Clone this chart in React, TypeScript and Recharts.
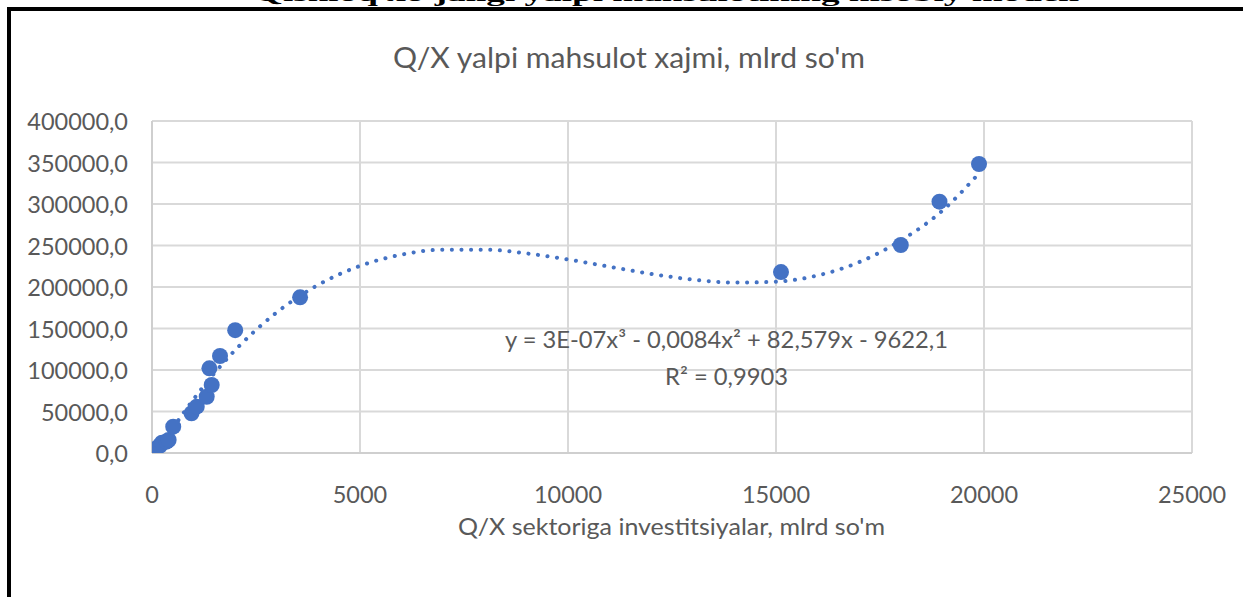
import React from 'react';
import { ComposedChart, Scatter, Line, XAxis, YAxis, CartesianGrid } from 'recharts';

// Observed points: investment in agriculture (x) vs gross output (y)
const investX = [60, 110, 190, 240, 350, 400, 510, 950, 1075, 1315, 1435, 1380, 1635, 2000, 3560, 15120, 18000, 18930, 19880];
const outputY = [2500, 5600, 9000, 12500, 13600, 15700, 31700, 47800, 55800, 67800, 81900, 102000, 116900, 148000, 187600, 218000, 250600, 302800, 348200];

// Polynomial trend line
const trendX = [250, 500, 1000, 1500, 2000, 2500, 3000, 3500, 4000, 5000, 6000, 7000, 8000, 9000, 10000, 11000, 12000, 13000, 14000, 15000, 16000, 17000, 18000, 19000, 19880];
const trendY = [10500, 29600, 64800, 96200, 124000, 148300, 169500, 187500, 202700, 225400, 239000, 245000, 245000, 240500, 233200, 224400, 215800, 208900, 205300, 206400, 213900, 230000, 256000, 292000, 337000];

const xTicks = [0, 5000, 10000, 15000, 20000, 25000];
const yTicks = [0, 50000, 100000, 150000, 200000, 250000, 300000, 350000, 400000];

const chartTitle = "Q/X yalpi mahsulot xajmi, mlrd so'm";
const xAxisTitle = "Q/X sektoriga investitsiyalar, mlrd so'm";
const equationText = 'y = 3E-07x³ - 0,0084x² + 82,579x - 9622,1';
const r2Text = 'R² = 0,9903';
const pageTitle = "Qishloq xo'jaligi yalpi mahsulotining hisobiy modeli";

const points = investX.map((x, i) => ({ x, y: outputY[i] }));
const trend = trendX.map((x, i) => ({ x, y: trendY[i] }));

const BLUE = '#4472C4';
const GREY_TEXT = '#595959';
const FONT = 'Lato, "Open Sans", sans-serif';

const XTick = (props: any) => {
  const { x, y, payload } = props;
  return (
    <text x={x} y={y + 50} textAnchor="middle" fontFamily={FONT} fontSize={23.5} fill={GREY_TEXT}>
      {payload.value}
    </text>
  );
};

const YTick = (props: any) => {
  const { x, y, payload } = props;
  return (
    <text x={x - 24} y={y + 9} textAnchor="end" fontFamily={FONT} fontSize={23.5} fill={GREY_TEXT}>
      {payload.value.toFixed(1).replace('.', ',')}
    </text>
  );
};

export default function App() {
  return (
    <div style={{ position: 'absolute', left: 0, top: 0, width: 1243, height: 597, overflow: 'hidden', background: '#fff' }}>
      <ComposedChart
        width={1243}
        height={597}
        margin={{ top: 121, right: 51, bottom: 84, left: 0 }}
      >
        <CartesianGrid stroke="#d9d9d9" strokeWidth={2} horizontalValues={yTicks} verticalValues={xTicks} />
        <XAxis
          type="number"
          dataKey="x"
          domain={[0, 25000]}
          ticks={xTicks}
          allowDataOverflow
          height={60}
          tickLine={false}
          tickSize={0}
          tickMargin={0}
          axisLine={{ stroke: '#cfcfcf', strokeWidth: 2 }}
          tick={<XTick />}
        />
        <YAxis
          type="number"
          dataKey="y"
          domain={[0, 400000]}
          ticks={yTicks}
          allowDataOverflow
          width={152}
          tickLine={false}
          tickSize={0}
          tickMargin={0}
          axisLine={{ stroke: '#cfcfcf', strokeWidth: 2 }}
          tick={<YTick />}
        />
        <Line
          data={trend}
          dataKey="y"
          type="monotone"
          stroke={BLUE}
          strokeWidth={4}
          strokeDasharray="0.1 9.5"
          strokeLinecap="round"
          dot={false}
          activeDot={false}
          isAnimationActive={false}
        />
        <Scatter
          data={points}
          dataKey="y"
          fill={BLUE}
          isAnimationActive={false}
          shape={(p: any) => <circle cx={p.cx} cy={p.cy} r={8} fill={BLUE} />}
        />
      </ComposedChart>
      <svg width={1243} height={597} style={{ position: 'absolute', left: 0, top: 0, pointerEvents: 'none' }}>
        <text x={254} y={1} fontFamily='"Liberation Serif", serif' fontWeight="bold" fontSize={22} fill="#000" textLength={825} lengthAdjust="spacingAndGlyphs">
          {pageTitle}
        </text>
        <line x1={7} y1={9} x2={1243} y2={9} stroke="#000" strokeWidth={4} />
        <line x1={9} y1={7} x2={9} y2={597} stroke="#000" strokeWidth={4} />
        <text x={393} y={68} fontFamily={FONT} fontSize={28} fill={GREY_TEXT} textLength={472} lengthAdjust="spacingAndGlyphs">
          {chartTitle}
        </text>
        <text x={458} y={535} fontFamily={FONT} fontSize={24} fill={GREY_TEXT} textLength={427} lengthAdjust="spacingAndGlyphs">
          {xAxisTitle}
        </text>
        <text x={505} y={348} fontFamily={FONT} fontSize={24} fill={GREY_TEXT} textLength={443} lengthAdjust="spacingAndGlyphs">
          {equationText}
        </text>
        <text x={665} y={385} fontFamily={FONT} fontSize={24} fill={GREY_TEXT} textLength={123} lengthAdjust="spacingAndGlyphs">
          {r2Text}
        </text>
      </svg>
    </div>
  );
}
